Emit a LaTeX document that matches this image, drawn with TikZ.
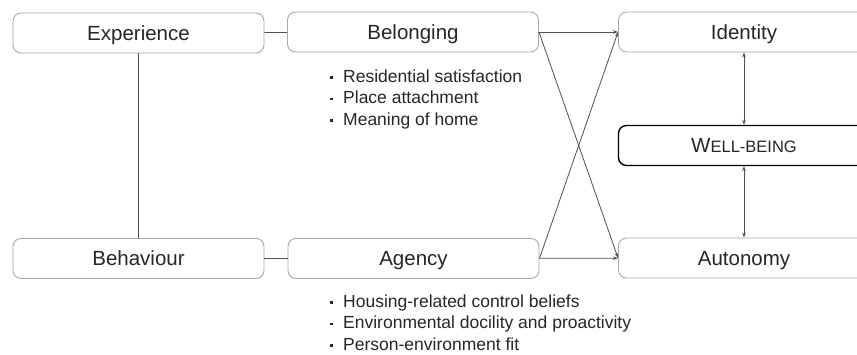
\documentclass[tikz,border=0pt]{standalone}
\usepackage{fontspec}
\setmainfont{Liberation Sans}
\usetikzlibrary{arrows.meta}
\definecolor{boxgray}{HTML}{A8A8A8}
\definecolor{linegray}{HTML}{505050}
\definecolor{txt}{HTML}{262626}
\tikzset{
  box/.style={draw=boxgray, line width=0.9pt, rounded corners=8pt, minimum width=251pt, minimum height=40pt, inner sep=0pt, text depth=0pt, text=txt, font=\fontsize{20.5}{24}\selectfont},
  wbox/.style={box, draw=black, line width=1.4pt},
  conn/.style={draw=linegray, line width=0.8pt},
  arr/.style={conn, -{Stealth[length=5pt,width=3.5pt]}},
  darr/.style={conn, {Stealth[length=5pt,width=3.5pt]}-{Stealth[length=5pt,width=3.5pt]}},
  blist/.style={anchor=north west, align=left, inner sep=0pt, text=txt, font=\fontsize{17.5}{21.5}\selectfont},
}
\newcommand{\bul}{\makebox[13pt][l]{\raisebox{3.5pt}{\rule{2.4pt}{2.4pt}}}}
\begin{document}
\begin{tikzpicture}[x=1pt,y=-1pt]
\useasboundingbox (0,0) rectangle (857,355);
\clip (0,0) rectangle (857,355);
\node[box] (exp) at (138.5,33) {Experience};
\node[box] (bel) at (413,32) {Belonging};
\node[box] (ide) at (744,32) {Identity};
\node[wbox] (wb) at (744,145.5) {W{\fontsize{16.5}{20}\selectfont ELL-BEING}};
\node[box] (beh) at (138.5,258.5) {Behaviour};
\node[box] (age) at (413.5,258.5) {Agency};
\node[box] (aut) at (744,258) {Autonomy};

\node[blist] (bl1) at (330,69.5) {\bul Residential satisfaction\\\bul Place attachment\\\bul Meaning of home};
\node[blist] (bl2) at (330,294.5) {\bul Housing-related control beliefs\\\bul Environmental docility and proactivity\\\bul Person-environment fit};

\draw[conn] (exp) -- (bel);
\draw[conn] (beh) -- (age);
\draw[conn] (exp) -- (beh);
\draw[arr] (bel) -- (ide);
\draw[arr] (age) -- (aut);
\draw[arr] (bel.east) -- (aut.west);
\draw[arr] (age.east) -- (ide.west);
\draw[darr] (ide) -- (wb);
\draw[darr] (wb) -- (aut);
\end{tikzpicture}
\end{document}
